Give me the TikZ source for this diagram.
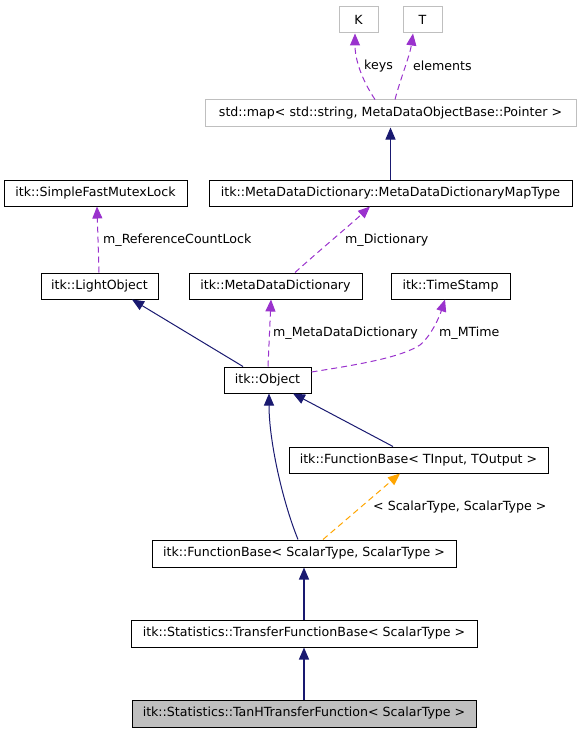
\documentclass[tikz,border=0pt]{standalone}
\usepackage{fontspec}
\setmainfont{DejaVu Sans}
\usetikzlibrary{arrows.meta,calc}
\definecolor{navy}{HTML}{191970}
\definecolor{orchid}{HTML}{9A32CD}
\definecolor{orng}{HTML}{FFA500}
\definecolor{greyb}{HTML}{BFBFBF}
\begin{document}
\begin{tikzpicture}[x=1pt,y=-1pt,
  font=\fontsize{12.6}{15}\selectfont,
  cls/.style={draw=black,line width=1pt,rectangle,inner sep=0pt,minimum height=26pt,fill=white},
  ext/.style={cls,draw=greyb},
  cur/.style={cls,fill=greyb},
  tipA/.style={-{Triangle[length=12pt,width=10pt]}},
  inh/.style={tipA,draw=navy,line width=1pt},
  inh2/.style={tipA,draw=navy,line width=1.2pt},
  mem/.style={tipA,draw=orchid,line width=1pt,dash pattern=on 6pt off 4pt},
  tmpl/.style={tipA,draw=orng,line width=1pt,dash pattern=on 6pt off 4pt},
  lbl/.style={inner sep=0pt,anchor=west}
]
\useasboundingbox (0,0) rectangle (581,733);
% nodes
\node[ext,minimum width=39pt] (K) at (358.5,20) {K};
\node[ext,minimum width=39pt] (T) at (422.5,20) {T};
\node[ext,minimum width=371pt,minimum height=27pt] (map) at (390.5,113.5) {std::map< std::string, MetaDataObjectBase::Pointer >};
\node[cls,minimum width=363pt] (mdt) at (390.5,193) {itk::MetaDataDictionary::MetaDataDictionaryMapType};
\node[cls,minimum width=183pt] (sfml) at (95.5,193) {itk::SimpleFastMutexLock};
\node[cls,minimum width=117pt] (lo) at (99.5,286) {itk::LightObject};
\node[cls,minimum width=173pt] (mdd) at (275.5,286) {itk::MetaDataDictionary};
\node[cls,minimum width=119pt] (ts) at (450.5,286) {itk::TimeStamp};
\node[cls,minimum width=87pt] (obj) at (267.5,380) {itk::Object};
\node[cls,minimum width=259pt] (fbio) at (418.5,460) {itk::FunctionBase< TInput, TOutput >};
\node[cls,minimum width=304pt,minimum height=27pt] (fbss) at (304,553.5) {itk::FunctionBase< ScalarType, ScalarType >};
\node[cls,minimum width=346pt,minimum height=27pt] (tfb) at (304,633.5) {itk::Statistics::TransferFunctionBase< ScalarType >};
\node[cur,minimum width=344pt,minimum height=27pt] (tanh) at (304,713.5) {itk::Statistics::TanHTransferFunction< ScalarType >};
% labels
\node[lbl] (lkeys) at (364,66) {keys};
\node[lbl] (lelem) at (413,66) {elements};
\node[lbl] (lrcl) at (103,240) {m\_ReferenceCountLock};
\node[lbl] (ldict) at (345,240) {m\_Dictionary};
\node[lbl] (lmdd) at (273,333) {m\_MetaDataDictionary};
\node[lbl] (lmt) at (439,333) {m\_MTime};
\node[lbl] (lss) at (373,507) {< ScalarType, ScalarType >};
% edges
\draw[mem] ($(map.north)+(-15.5,0)$) .. controls (362,80) and (355,60) .. ($(K.south)+(-3.5,0)$);
\draw[mem] ($(map.north)+(4.5,0)$) .. controls (400,80) and (410,55) .. ($(T.south)+(-9.5,0)$);
\draw[inh] (mdt.north) -- (map.south);
\draw[mem] ($(mdd.north)+(19.5,0)$) .. controls (320,250) and (350,225) .. ($(mdt.south)+(-20.5,0)$);
\draw[mem] ($(lo.north)+(-0.5,0)$) -- ($(sfml.south)+(1.5,0)$);
\draw[inh] ($(obj.north)+(-24.5,0)$) -- ($(lo.south)+(32.5,0)$);
\draw[mem] ($(obj.north)+(0.5,0)$) -- ($(mdd.south)+(-4.5,0)$);
\draw[mem] ($(obj.east)+(0,-8)$) .. controls (355,365) and (400,358) .. (420,345) .. controls (432,335) and (440,315) .. ($(ts.south)+(-5.5,0)$);
\draw[inh] ($(fbio.north)+(-25.5,0)$) -- ($(obj.south)+(25.5,0)$);
\draw[inh] ($(fbss.north)+(-6,0)$) .. controls (282,500) and (269,440) .. ($(obj.south)+(1.5,0)$);
\draw[tmpl] ($(fbss.north)+(19,0)$) -- ($(fbio.south)+(-18.5,0)$);
\draw[inh2] (tfb.north) -- (fbss.south);
\draw[inh2] (tanh.north) -- (tfb.south);
\end{tikzpicture}
\end{document}
